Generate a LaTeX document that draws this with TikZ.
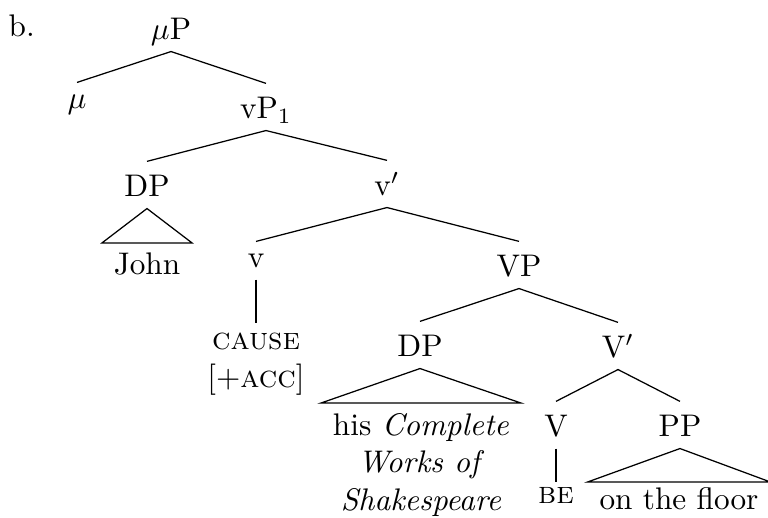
\documentclass[tikz,border=0pt]{standalone}
\usepackage{amsmath}
\usepackage{amssymb}

\begin{document}
\begin{tikzpicture}[x=0.32pt,y=-0.32pt,
	cat/.style={anchor=base,inner sep=0pt,inner ysep=2pt,text height=9.2pt,text depth=1.5pt},
	lowcat/.style={cat,text height=6.3pt},
	leaf/.style={anchor=north,inner xsep=3.6pt,inner ysep=3pt,align=center}]
				\useasboundingbox (0,0) rectangle (768,518);
				
				\node[anchor=base west,inner sep=0pt] (B) at (8,37) {b.};
				\node[cat] (MP) at (171,40) {$\mu$P};
				\node[lowcat] (M) at (77,109) {$\mu$};
				\node[cat] (VP1) at (266,119) {vP$_1$};
				\node[cat] (DP1) at (147,197) {DP};
				\node[cat] (VB1) at (387,196) {v$'$};
				\node[lowcat] (LV) at (256,268) {v};
				\node[cat] (VP2) at (519,277) {VP};
				\node[cat] (DP2) at (420,357) {DP};
				\node[cat] (VB2) at (618,358) {V$'$};
				\node[cat] (V) at (556,437) {V};
				\node[cat] (PP) at (680,437) {PP};
				
				\node[leaf] (JO) at (147,243) {John};
				\node[leaf] (CA) at (256,323) {\textsc{cause}\\{}[+\textsc{acc}]};
				\node[leaf] (SH) at (421,403) {his \textit{Complete}\\\textit{Works of}\\\textit{Shakespeare}};
				\node[leaf,inner ysep=1.5pt] (BE) at (556,482) {\textsc{be}};
				\node[leaf,inner ysep=1.5pt] (FL) at (679,482) {on the floor};
				
				\draw (M.north) -- (MP.south) -- (VP1.north);
				\draw (DP1.north) -- (VP1.south) -- (VB1.north);
				\draw (LV.north) -- (VB1.south) -- (VP2.north);
				\draw (DP2.north) -- (VP2.south) -- (VB2.north);
				\draw (V.north) -- (VB2.south) -- (PP.north);
				\draw (LV.south) -- (CA.north);
				\draw (V.south) -- (BE.north);
				
				\draw (DP1.south) -- (JO.north west) -- (JO.north east) -- cycle;
				\draw (DP2.south) -- (SH.north west) -- (SH.north east) -- cycle;
				\draw (PP.south) -- (FL.north west) -- (FL.north east) -- cycle;
			\end{tikzpicture}
\end{document}
